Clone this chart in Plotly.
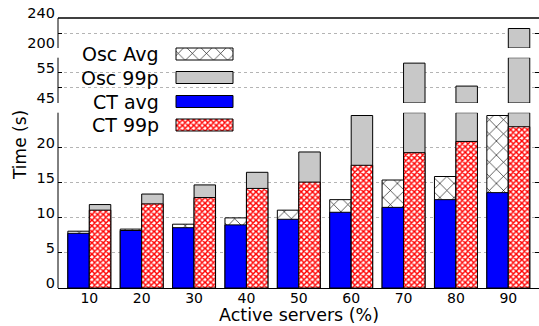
import plotly.graph_objects as go

# ---- data ----
categories = ["10", "20", "30", "40", "50", "60", "70", "80", "90"]
ct_avg = [7.8, 8.2, 8.6, 9.0, 9.8, 10.8, 11.5, 12.6, 13.6]
osc_avg = [8.1, 8.4, 9.1, 10.0, 11.1, 12.6, 15.4, 15.9, 24.6]
ct_99p = [11.1, 12.0, 12.9, 14.2, 15.1, 17.5, 19.3, 20.9, 23.0]
osc_99p = [11.9, 13.4, 14.7, 16.5, 19.4, 24.6, 58.2, 50.6, 226.0]

legend_labels = ["Osc Avg", "Osc 99p", "CT avg", "CT 99p"]

# panels of the broken axis: (axis id, low, high, tick values, tick labels)
panels = [
    ("y", 0, 25, [0, 5, 10, 15, 20, 25], ["0", "5", "10", "15", "20", ""]),
    ("y2", 45, 60, [45, 50, 55, 60], ["45", "", "55", ""]),
    ("y3", 200, 240, [200, 220, 240], ["200", "", "240"]),
]

FONT = "DejaVu Sans"
W, H = 539, 326
ML, MR, MT, MB = 58, 0, 18, 38
PW, PH = W - ML - MR, H - MT - MB

def py(px_from_top):
    return (H - MB - px_from_top) / PH

domains = [[0, py(112.7)], [py(103), py(57.7)], [py(48), 1.0]]

BW = 0.41
styles = {
    "Osc Avg": dict(color="white", line=dict(color="black", width=1),
                    pattern=dict(shape="x", fgcolor="black", bgcolor="white",
                                 size=10, solidity=0.12, fillmode="replace")),
    "Osc 99p": dict(color="#c8c8c8", line=dict(color="black", width=1)),
    "CT avg": dict(color="#0000ff", line=dict(color="black", width=1)),
    "CT 99p": dict(color="white", line=dict(color="black", width=1),
                   pattern=dict(shape="x", fgcolor="#ff0000", bgcolor="white",
                                size=4, solidity=0.6, fillmode="replace")),
}

series = [("Osc Avg", osc_avg, -BW), ("CT avg", ct_avg, -BW),
          ("Osc 99p", osc_99p, 0.0), ("CT 99p", ct_99p, 0.0)]

fig = go.Figure()
for ax, lo, hi, tv, tt in panels:
    for name, vals, off in series:
        ys = [(min(v, hi) - lo) if v > lo else None for v in vals]
        if all(y is None for y in ys):
            continue
        fig.add_trace(go.Bar(
            x=categories, y=ys, base=lo, offset=off, width=BW,
            marker=styles[name], xaxis="x", yaxis=ax,
            showlegend=False, hoverinfo="skip"))

# legend drawn on a pixel-space overlay axis (text left, swatch right)
leg_rows = [54, 77.5, 101.5, 125]
for lab, ry in zip(legend_labels, leg_rows):
    fig.add_trace(go.Bar(
        y=[ry], x=[57], base=[176], orientation="h", width=12,
        marker=styles[lab], xaxis="x4", yaxis="y4",
        showlegend=False, hoverinfo="skip"))
    fig.add_annotation(x=161, y=ry, xref="x4", yref="y4", text=lab,
                       showarrow=False, xanchor="right", yanchor="middle",
                       font=dict(family=FONT, size=19, color="black"))

grid = dict(showgrid=True, gridcolor="#b4b4b4", griddash="dot", gridwidth=1,
            zeroline=False, showline=False, ticks="inside", ticklen=4,
            tickcolor="black", mirror="ticks", tickmode="array",
            ticklabelshift=-5, ticklabelstandoff=2,
            tickfont=dict(family=FONT, size=14.5, color="black"))

layout = dict(
    width=W, height=H, margin=dict(l=ML, r=MR, t=MT, b=MB),
    paper_bgcolor="white", plot_bgcolor="rgba(0,0,0,0)",
    barmode="overlay", showlegend=False,
    xaxis=dict(type="category", range=[-0.598, 8.586], domain=[0, 1],
               anchor="y", showline=True, linecolor="black", linewidth=1,
               ticks="", showgrid=False, zeroline=False, ticklabelstandoff=-3,
               tickfont=dict(family=FONT, size=14, color="black")),
    xaxis4=dict(domain=[0, 1], anchor="y4", range=[ML, W - MR], visible=False),
    yaxis4=dict(domain=[0, 1], anchor="x4", range=[H - MB, MT], visible=False),
)
for (ax, lo, hi, tv, tt), dom in zip(panels, domains):
    key = "yaxis" if ax == "y" else "yaxis" + ax[1:]
    layout[key] = dict(grid, domain=dom, range=[lo, hi], anchor="x",
                       tickvals=tv, ticktext=tt)
fig.update_layout(**layout)

shapes = []
# left axis segments
for (ax, lo, hi, tv, tt) in panels:
    shapes.append(dict(type="line", xref="paper", yref=ax + " domain",
                       x0=0, x1=0, y0=0, y1=1,
                       line=dict(color="black", width=1)))
# top border
shapes.append(dict(type="line", xref="paper", yref="paper", x0=0, x1=1,
                   y0=1, y1=1, line=dict(color="black", width=1.5)))
# legend box hides the left part of the top grid line of the lower panel
shapes.append(dict(type="rect", xref="x4", yref="y4", x0=59, x1=247,
                   y0=111, y1=114.5, fillcolor="white", line=dict(width=0),
                   layer="between"))
fig.update_layout(shapes=shapes)

fig.add_annotation(x=0.5, y=-(315 - (H - MB)) / PH, xref="paper", yref="paper",
                   text="Active servers (%)", showarrow=False,
                   xanchor="center", yanchor="middle",
                   font=dict(family=FONT, size=17.5, color="black"))
fig.add_annotation(x=(20 - ML) / PW, y=py(145), xref="paper", yref="paper",
                   text="Time (s)", textangle=-90, showarrow=False,
                   xanchor="center", yanchor="middle",
                   font=dict(family=FONT, size=17, color="black"))

fig.write_html("out.html", config={"displayModeBar": False},
               post_script="document.body.style.margin='0';")
